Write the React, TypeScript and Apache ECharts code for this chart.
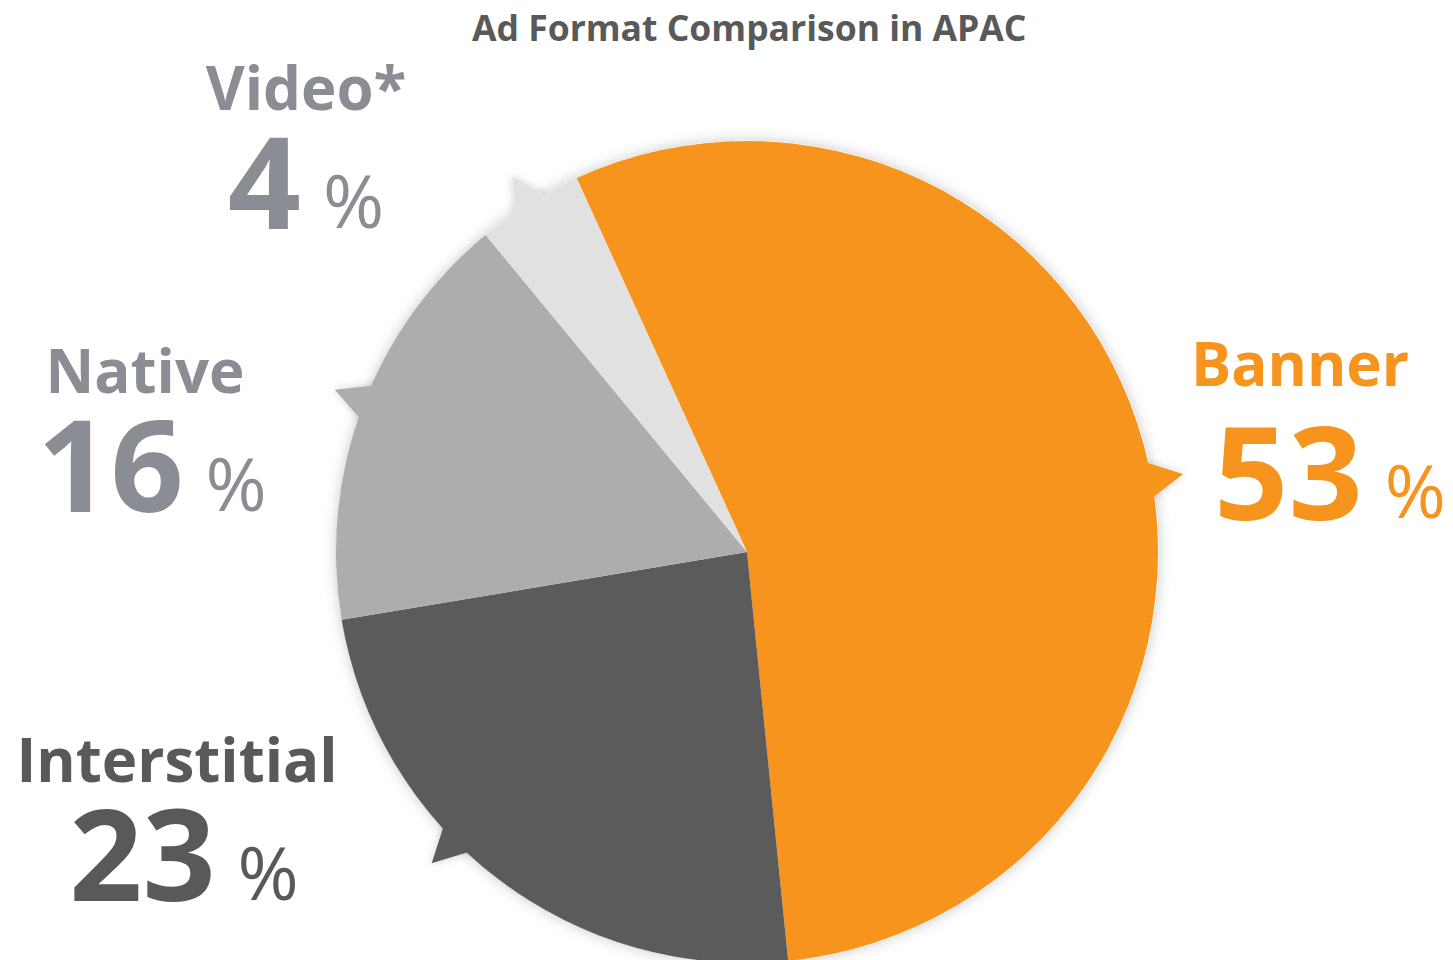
import React, { useEffect, useRef } from "react";
import * as echarts from "echarts";

const titleText = "Ad Format Comparison in APAC";
const categories = ["Banner", "Interstitial", "Native", "Video*"];
const values = [53, 23, 16, 4];
const sliceColors = ["#F7941D", "#5B5B5B", "#ADADAD", "#E1E1E1"];
const textColors = ["#F7941D", "#58595B", "#8A8D93", "#8A8D93"];
// label block anchors (top-center) and per-label styling
const labelAnchors = [
  [1300, 313],
  [177, 723],
  [145, 334],
  [306, 51],
];
const nameLineHeights = [100, 72, 72, 72];
const numSizes = [130, 128, 128, 128];
const numPadLeft = [60, 14, 14, 0];
// pointer angular shift (degrees, clockwise) from slice middle
const pointerShift = [5, 8, 1, 0];

const CX = 747;
const CY = 552;
const R = 411;
const START = 114.5;

function richFor(i: number) {
  return {
    name: {
      fontFamily: "Open Sans",
      fontWeight: "bold",
      fontSize: 60,
      lineHeight: nameLineHeights[i],
      color: textColors[i],
    },
    num: {
      fontFamily: "Open Sans",
      fontWeight: "bold",
      fontSize: numSizes[i],
      lineHeight: 113,
      padding: [0, 0, 0, numPadLeft[i]],
      color: textColors[i],
    },
    pct: {
      fontFamily: "Open Sans",
      fontWeight: "normal",
      fontSize: 74,
      lineHeight: 83,
      verticalAlign: "bottom",
      padding: [0, 0, 0, 22],
      color: textColors[i],
    },
  };
}

function pointerGraphics() {
  const total = values.reduce((a, b) => a + b, 0);
  let cum = 0;
  const out: any[] = [];
  values.forEach((v, i) => {
    const mid = ((START - ((cum + v / 2) / total) * 360 - pointerShift[i]) * Math.PI) / 180;
    cum += v;
    const tipR = R + 32;
    const baseR = R - 12;
    const half = 24 / R;
    const pt = (r: number, a: number) => [CX + r * Math.cos(a), CY - r * Math.sin(a)];
    out.push({
      type: "polygon",
      z: 1,
      shape: { points: [pt(baseR, mid - half), pt(tipR, mid), pt(baseR, mid + half)] },
      style: {
        fill: sliceColors[i],
        shadowBlur: 8,
        shadowColor: "rgba(0,0,0,0.18)",
      },
      silent: true,
    });
  });
  return out;
}

export default function App() {
  const ref = useRef<HTMLDivElement>(null);
  useEffect(() => {
    if (!ref.current) return;
    const chart = echarts.init(ref.current, null, { renderer: "svg" });
    const data = categories.map((name, i) => ({
      name,
      value: values[i],
      itemStyle: { color: sliceColors[i] },
      label: { rich: richFor(i) },
    }));
    chart.setOption({
      animation: false,
      backgroundColor: "#ffffff",
      title: {
        text: titleText,
        left: 472,
        top: 7,
        padding: 0,
        textStyle: {
          fontFamily: "Open Sans",
          fontWeight: "bold",
          fontSize: 35.5,
          lineHeight: 40,
          color: "#595959",
        },
      },
      graphic: pointerGraphics(),
      series: [
        {
          type: "pie",
          z: 0,
          silent: true,
          center: [CX, CY],
          radius: R,
          startAngle: START,
          label: { show: false },
          labelLine: { show: false },
          data: [{ value: 1, itemStyle: { color: "#ffffff", shadowBlur: 14, shadowColor: "rgba(0,0,0,0.22)" } }],
        },
        {
          type: "pie",
          z: 2,
          center: [CX, CY],
          radius: R,
          startAngle: START,
          clockwise: true,
          avoidLabelOverlap: false,
          itemStyle: { borderWidth: 0 },
          label: {
            show: true,
            position: "outside",
            align: "center",
            formatter: (p: any) => `{name|${p.name}}\n{num|${p.value}}{pct|%}`,
          },
          labelLine: { show: false },
          labelLayout: (params: any) => {
            const a = labelAnchors[params.dataIndex];
            return { x: a[0], y: a[1], align: "center", verticalAlign: "top" };
          },
          data,
        },
      ],
    });
    return () => chart.dispose();
  }, []);
  return (
    <div
      ref={ref}
      style={{ position: "fixed", left: 0, top: 0, width: 1453, height: 960 }}
    />
  );
}
